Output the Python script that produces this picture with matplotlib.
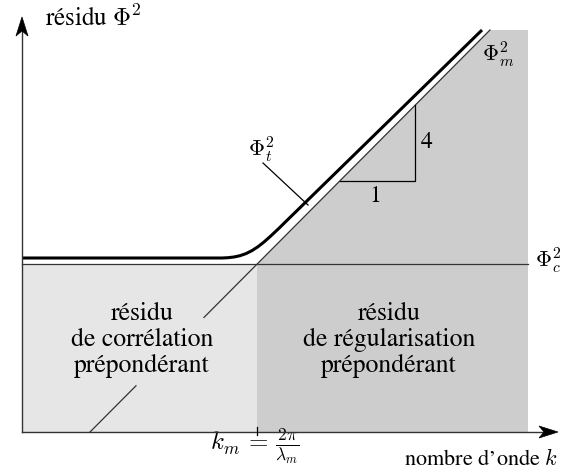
import numpy as np
import matplotlib
matplotlib.use("Agg")
import matplotlib.pyplot as plt
from matplotlib.patches import Polygon

plt.rcParams['mathtext.fontset'] = 'cm'
plt.rcParams['font.family'] = ['STIXGeneral', 'DejaVu Serif']
plt.rcParams['axes.unicode_minus'] = False

# ---- schematic data (arbitrary units: wavenumber k horizontally, residual vertically)
k_m = 235            # k_m = 2*pi/lambda_m
phi_c = 168          # correlation residual level Phi_c^2
k_end = 506          # right edge of the shaded domain
phi_end = 402        # top of the shaded domain
k_axis_end = 536     # tip of the k axis
phi_axis_end = 415   # tip of the residual axis

# Phi_m^2 asymptote (straight line, slope 4 in log-log)
phim_k = [68, 468]
phim_phi = [0, 402]
phim_gap = [114, 182]   # part hidden behind the text

# Phi_t^2 total residual
phit_k = [0, 200, 206, 212, 218, 224, 230, 236, 242, 248, 256, 266, 460]
phit_phi = [174, 174, 174.3, 175.0, 176.3, 178.4, 181.4, 185.3, 190.0, 195.3,
            202.8, 212.6, 402]

# slope triangle (run 1, rise 4)
tri_k = 393
tri_phi = 251

# labels
region_left = "résidu\nde corrélation\nprépondérant"
region_right = "résidu\nde régularisation\nprépondérant"
ylabel = r"résidu $\Phi^2$"
xlabel = r"nombre d’onde $k$"
km_label = r"$k_m\,=\,\frac{2\pi}{\lambda_m}$"

light = '#e6e6e6'
dark = '#cdcdcd'
line_c = '#333333'

fig = plt.figure(figsize=(5.83, 4.71), dpi=100)
ax = fig.add_axes([0, 0, 1, 1])
ax.set_xlim(-22, 561)
ax.set_ylim(-39, 432)
ax.axis('off')

def diag(k):
    return np.interp(k, phim_k, phim_phi)

def diag_inv(p):
    return np.interp(p, phim_phi, phim_k)

# shaded regions
ax.add_patch(Polygon([(0, 0), (k_m, 0), (k_m, phi_c), (0, phi_c)],
                     closed=True, facecolor=light, edgecolor='none', zorder=1))
ax.add_patch(Polygon([(k_m, 0), (k_end, 0), (k_end, phi_end),
                      (diag_inv(phi_end), phi_end), (k_m, diag(k_m))],
                     closed=True, facecolor=dark, edgecolor='none', zorder=1))

# Phi_c^2 line
ax.plot([0, k_end], [phi_c, phi_c], color=line_c, lw=0.9, zorder=3)

# Phi_m^2 line with a gap
ax.plot([phim_k[0], phim_gap[0]], [phim_phi[0], diag(phim_gap[0])],
        color=line_c, lw=0.9, zorder=3)
ax.plot([phim_gap[1], phim_k[1]], [diag(phim_gap[1]), phim_phi[1]],
        color=line_c, lw=0.9, zorder=3)

# Phi_t^2 thick curve
ax.plot(phit_k, phit_phi, color='black', lw=2.2, zorder=4,
        solid_capstyle='butt', solid_joinstyle='round')

# slope triangle
ax.plot([diag_inv(tri_phi), tri_k, tri_k], [tri_phi, tri_phi, diag(tri_k)],
        color='black', lw=0.9, zorder=3)
ax.text((diag_inv(tri_phi) + tri_k) / 2 - 2, tri_phi - 15, "1", fontsize=17,
        ha='center', va='center', zorder=5)
ax.text(tri_k + 12, (tri_phi + diag(tri_k)) / 2 + 1, "4", fontsize=17,
        ha='center', va='center', zorder=5)

# axes with arrows
ax.plot([0, k_axis_end - 12], [0, 0], color=line_c, lw=1.0, zorder=5)
ax.plot([0, 0], [0, phi_axis_end - 12], color=line_c, lw=1.0, zorder=5)
L, W, N = 19, 6, 14
ax.add_patch(Polygon([(k_axis_end, 0), (k_axis_end - L, W), (k_axis_end - N, 0),
                      (k_axis_end - L, -W)], closed=True, facecolor='black',
                     edgecolor='black', lw=0.5, zorder=6))
ax.add_patch(Polygon([(0, phi_axis_end), (W, phi_axis_end - L), (0, phi_axis_end - N),
                      (-W, phi_axis_end - L)], closed=True, facecolor='black',
                     edgecolor='black', lw=0.5, zorder=6))

# tick at k_m
ax.plot([k_m, k_m], [-3, 5], color='black', lw=0.9, zorder=6)

# texts
ax.text(23, 406, ylabel, fontsize=18, ha='left', va='baseline')
ax.text(k_axis_end, -33, xlabel, fontsize=16, ha='right', va='baseline')
ax.text(k_m - 2, -14, km_label, fontsize=18, ha='center', va='center')
ax.text(460, 371, r"$\Phi_m^2$", fontsize=16, ha='left', va='baseline', zorder=5)
ax.text(513, 165, r"$\Phi_c^2$", fontsize=16, ha='left', va='baseline')
ax.text(226, 276, r"$\Phi_t^2$", fontsize=16, ha='left', va='baseline')
ax.plot([241, 286], [269, 227], color='black', lw=0.9, zorder=3)

fs = 18.5
ax.text(120, 92, region_left, fontsize=fs, ha='center', va='center',
        linespacing=1.12, zorder=5)
ax.text(367, 92, region_right, fontsize=fs, ha='center', va='center',
        linespacing=1.12, zorder=5)

fig.savefig('out.png', dpi=100)
